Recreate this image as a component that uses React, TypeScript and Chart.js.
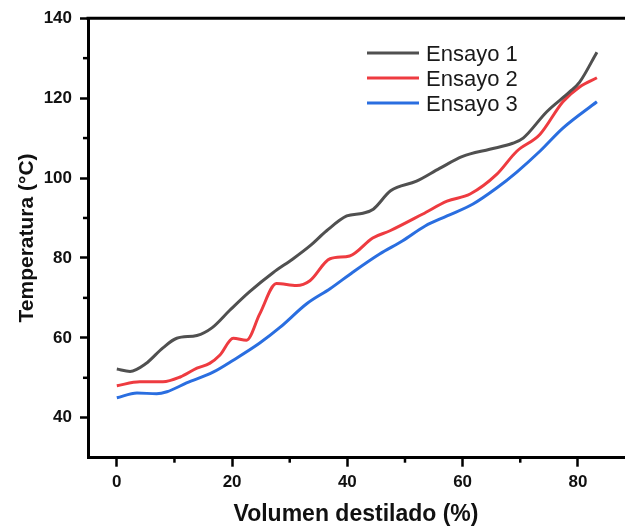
import React, { useEffect, useRef } from "react";
import { Chart, registerables } from "chart.js";

Chart.register(...registerables);

const seriesNames = ["Ensayo 1", "Ensayo 2", "Ensayo 3"];
const seriesColors = ["#505050", "#ee3b40", "#2a6ee0"];

const ensayo1X = [0, 2.3, 5, 8, 10.4, 13.9, 16.5, 19.6, 23, 27.1, 30.6, 33.5, 36.4, 39.9, 42.7, 44.5, 47.5, 52, 56, 60, 64.7, 68.7, 70.5, 74.6, 78.6, 80.3, 83.3];
const ensayo1Y = [52.2, 51.6, 53.5, 57.5, 59.9, 60.6, 62.5, 66.9, 71.5, 76.3, 79.8, 83, 86.8, 90.5, 91.2, 92.2, 96.8, 99.2, 102.4, 105.4, 107.2, 108.7, 110, 116.6, 121.6, 124, 131.5];

const ensayo2X = [0, 4, 8, 11, 13.9, 16.1, 17.9, 20.2, 22.5, 24.8, 27.7, 31.2, 33.5, 37, 40.4, 44.4, 47.4, 53.1, 57.3, 61.3, 65.9, 69.4, 73.4, 77.4, 80.3, 83.3];
const ensayo2Y = [48, 49, 49, 50.2, 52.4, 53.6, 55.7, 59.9, 59.4, 66, 73.6, 73.1, 74.3, 79.8, 80.5, 85, 86.8, 91, 94.2, 96, 100.9, 106.7, 110.9, 119.1, 122.8, 125.1];

const ensayo3X = [0, 3.5, 6.9, 8.7, 12.1, 16.7, 20.2, 24.8, 28.3, 33, 37, 41, 45.6, 49.6, 53.5, 57.3, 61.8, 65.9, 69.4, 73.4, 77.4, 83.3];
const ensayo3Y = [45, 46.2, 46, 46.5, 48.7, 51.4, 54.4, 58.7, 62.6, 68.6, 72.3, 76.5, 81, 84.3, 88, 90.5, 93.5, 97.5, 101.5, 106.7, 112.5, 119.1];

const xMajorTicks = [0, 20, 40, 60, 80];
const xMinorTicks = [10, 30, 50, 70];
const yMajorTicks = [40, 60, 80, 100, 120, 140];
const yMinorTicks = [50, 70, 90, 110, 130];

const FONT = "'Liberation Sans', Arial, sans-serif";

const toPoints = (xs: number[], ys: number[]) => xs.map((x, i) => ({ x, y: ys[i] }));

const framePlugin = {
  id: "frame",
  afterDraw(chart: any) {
    const { ctx, chartArea, scales } = chart;
    ctx.save();
    ctx.strokeStyle = "#000";
    ctx.lineWidth = 3;
    // top border
    ctx.beginPath();
    ctx.moveTo(chartArea.left - 1.5, chartArea.top);
    ctx.lineTo(chart.width, chartArea.top);
    ctx.stroke();
    // minor ticks
    ctx.lineWidth = 2.5;
    xMinorTicks.forEach((v) => {
      const px = scales.x.getPixelForValue(v);
      ctx.beginPath();
      ctx.moveTo(px, chartArea.bottom);
      ctx.lineTo(px, chartArea.bottom + 5);
      ctx.stroke();
    });
    yMinorTicks.forEach((v) => {
      const py = scales.y.getPixelForValue(v);
      ctx.beginPath();
      ctx.moveTo(chartArea.left, py);
      ctx.lineTo(chartArea.left - 5, py);
      ctx.stroke();
    });
    // legend
    const lx = chartArea.left + 279;
    const ly = chartArea.top + 34.7;
    ctx.font = `22px ${FONT}`;
    ctx.textBaseline = "alphabetic";
    ctx.textAlign = "left";
    chart.data.datasets.forEach((ds: any, i: number) => {
      const y = ly + i * 25;
      ctx.strokeStyle = ds.borderColor;
      ctx.lineWidth = 3;
      ctx.beginPath();
      ctx.moveTo(lx, y);
      ctx.lineTo(lx + 52, y);
      ctx.stroke();
      ctx.fillStyle = "#1a1a1a";
      ctx.fillText(ds.label, lx + 59, y + 7.9);
    });
    ctx.restore();
  },
};

export default function App() {
  const ref = useRef<HTMLCanvasElement>(null);
  useEffect(() => {
    if (!ref.current) return;
    const seriesData = [
      toPoints(ensayo1X, ensayo1Y),
      toPoints(ensayo2X, ensayo2Y),
      toPoints(ensayo3X, ensayo3Y),
    ];
    const chart = new Chart(ref.current, {
      type: "line",
      data: {
        datasets: seriesData.map((d, i) => ({
          label: seriesNames[i],
          data: d,
          borderColor: seriesColors[i],
          backgroundColor: seriesColors[i],
          borderWidth: 3,
          pointRadius: 0,
          cubicInterpolationMode: "monotone",
          fill: false,
        })),
      },
      options: {
        animation: false,
        responsive: false,
        layout: { padding: { top: 16, right: 1, left: 0, bottom: 0 } },
        plugins: { legend: { display: false }, tooltip: { enabled: false } },
        scales: {
          x: {
            type: "linear",
            min: -5,
            max: 88,
            afterBuildTicks: (axis: any) => {
              axis.ticks = xMajorTicks.map((v) => ({ value: v }));
            },
            afterFit: (axis: any) => {
              axis.height = 70.3;
            },
            border: { display: true, color: "#000", width: 3 },
            grid: { drawOnChartArea: false, drawTicks: true, tickLength: 9, tickWidth: 2.5, tickColor: "#000" },
            ticks: { color: "#111", padding: 5, font: { family: FONT, size: 17, weight: "bold" }, maxRotation: 0 },
            title: {
              display: true,
              text: "Volumen destilado (%)",
              color: "#111",
              font: { family: FONT, size: 23, weight: "bold" },
              padding: { top: 4, bottom: 0 },
            },
          },
          y: {
            type: "linear",
            min: 30,
            max: 140,
            afterBuildTicks: (axis: any) => {
              axis.ticks = yMajorTicks.map((v) => ({ value: v }));
            },
            afterFit: (axis: any) => {
              axis.width = 88;
            },
            border: { display: true, color: "#000", width: 3 },
            grid: { drawOnChartArea: false, drawTicks: true, tickLength: 8, tickWidth: 2.5, tickColor: "#000" },
            ticks: { color: "#111", padding: 8, font: { family: FONT, size: 17, weight: "bold" } },
            title: {
              display: true,
              text: "Temperatura (°C)",
              color: "#111",
              font: { family: FONT, size: 21, weight: "bold" },
              padding: { top: 15, bottom: 0 },
            },
          },
        },
      },
      plugins: [framePlugin],
    } as any);
    return () => chart.destroy();
  }, []);
  return (
    <div style={{ position: "absolute", left: 0, top: 0, width: 625, height: 528, background: "#fff" }}>
      <canvas ref={ref} width={625} height={528} />
    </div>
  );
}
